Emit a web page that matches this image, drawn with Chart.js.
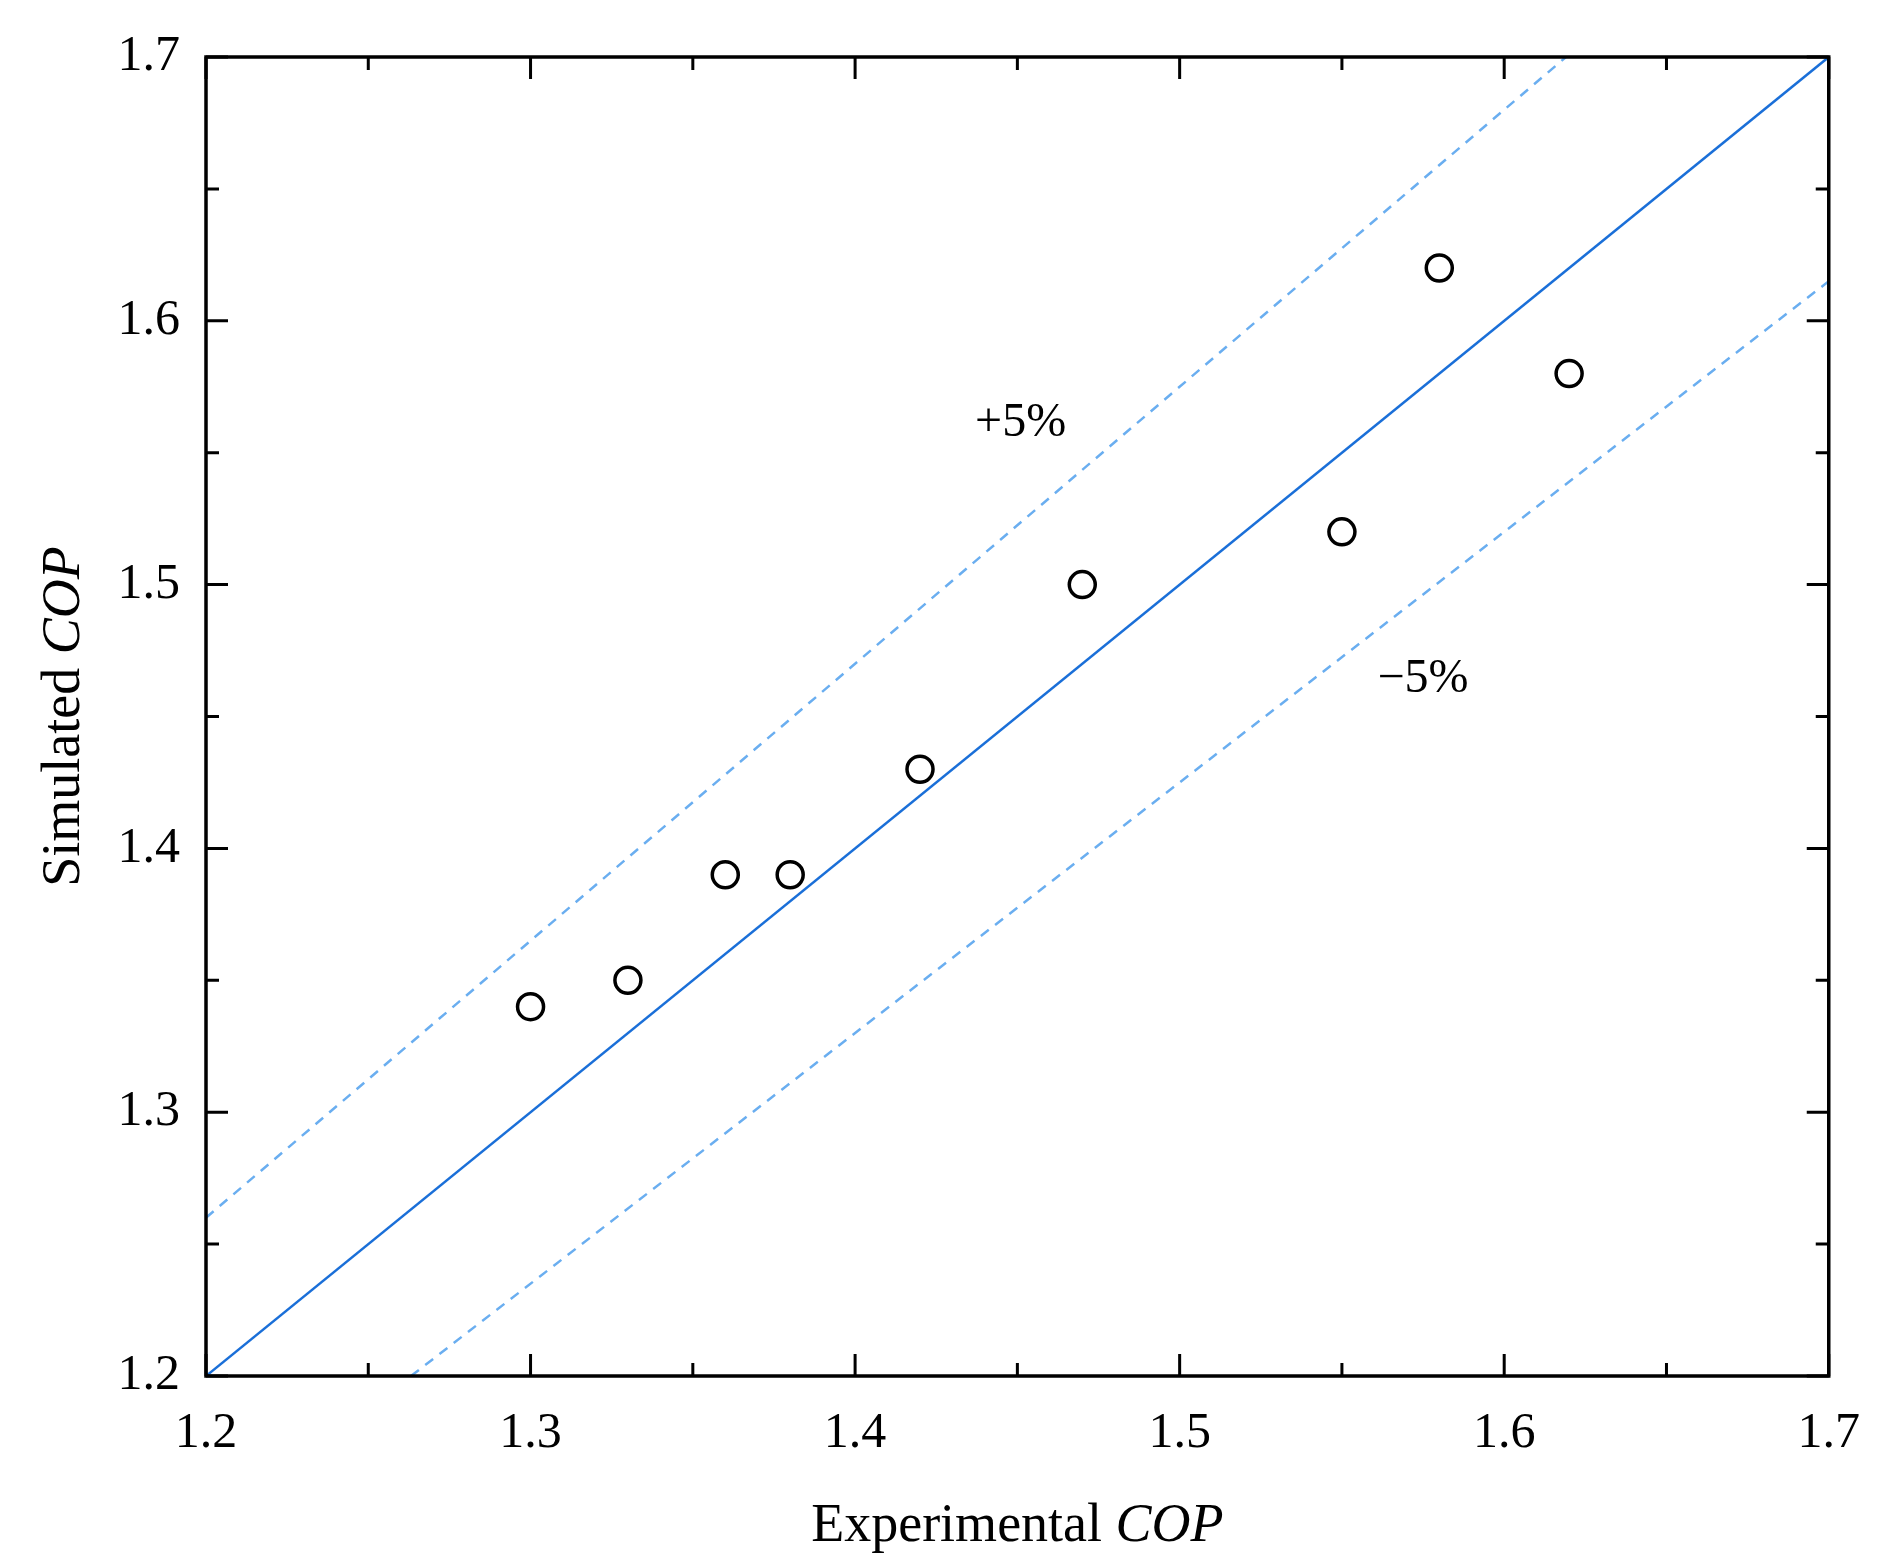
<!DOCTYPE html>
<html><head><meta charset="utf-8">
<script src="https://cdn.jsdelivr.net/npm/chart.js@4"></script>
<style>html,body{margin:0;padding:0;background:#fff}#c{display:block}</style>
</head><body>
<canvas id="c" width="1888" height="1568"></canvas>
<script>
const expCOP = [1.30,1.33,1.36,1.38,1.42,1.47,1.55,1.58,1.62];
const simCOP = [1.34,1.35,1.39,1.39,1.43,1.50,1.52,1.62,1.58];
const lineX = [1.2, 1.7];
const plusX = [1.2, 1.7/1.05];
const minusX = [1.2/0.95, 1.7];
const annotations = [{text:'+5%', x:1.451, y:1.561},{text:'\u22125%', x:1.575, y:1.464}];
const FONT = '"Liberation Serif", "Times New Roman", serif';

const decor = {
  id:'decor',
  afterDraw(chart){
    const {ctx, chartArea:a, scales:{x,y}} = chart;
    ctx.save();
    ctx.strokeStyle='#000'; ctx.lineWidth=3.5;
    ctx.strokeRect(a.left,a.top,a.right-a.left,a.bottom-a.top);
    ctx.lineWidth=3;
    for(let v=1.2; v<=1.7001; v+=0.05){
      const major = Math.abs(Math.round(v*10)-v*10)<1e-6;
      const L = major?22:13;
      const px=x.getPixelForValue(v), py=y.getPixelForValue(v);
      ctx.beginPath();
      ctx.moveTo(px,a.bottom); ctx.lineTo(px,a.bottom-L);
      ctx.moveTo(px,a.top); ctx.lineTo(px,a.top+L);
      ctx.moveTo(a.left,py); ctx.lineTo(a.left+L,py);
      ctx.moveTo(a.right,py); ctx.lineTo(a.right-L,py);
      ctx.stroke();
    }
    ctx.fillStyle='#000';
    ctx.font='48px '+FONT; ctx.textAlign='center'; ctx.textBaseline='middle';
    annotations.forEach(t=>ctx.fillText(t.text, x.getPixelForValue(t.x), y.getPixelForValue(t.y)));
    const drawTitle=(parts)=>{
      let w=0; parts.forEach(p=>{ctx.font=p[1]+' 54px '+FONT; w+=ctx.measureText(p[0]).width;});
      let cx=-w/2; ctx.textAlign='left';
      parts.forEach(p=>{ctx.font=p[1]+' 54px '+FONT; ctx.fillText(p[0],cx,0); cx+=ctx.measureText(p[0]).width;});
    };
    ctx.textBaseline='middle';
    ctx.save(); ctx.translate((a.left+a.right)/2, 1527); drawTitle([['Experimental ','normal'],['COP','italic']]); ctx.restore();
    ctx.save(); ctx.translate(65,(a.top+a.bottom)/2); ctx.rotate(-Math.PI/2); drawTitle([['Simulated ','normal'],['COP','italic']]); ctx.restore();
    ctx.restore();
  }
};

const tickCfg = {
  min:1.2, max:1.7,
  grid:{display:false, drawTicks:false},
  border:{display:false},
};
new Chart(document.getElementById('c'),{
  type:'scatter',
  data:{datasets:[
    {data:expCOP.map((v,i)=>({x:v,y:simCOP[i]})), showLine:false, pointRadius:13, pointBorderWidth:3.5, borderColor:'#000', backgroundColor:'rgba(0,0,0,0)', pointHoverRadius:13},
    {data:lineX.map(v=>({x:v,y:v})), showLine:true, pointRadius:0, borderColor:'#1a6fd8', borderWidth:2.5},
    {data:plusX.map(v=>({x:v,y:v*1.05})), showLine:true, pointRadius:0, borderColor:'#6aaef0', borderWidth:2.5, borderDash:[10,8]},
    {data:minusX.map(v=>({x:v,y:v*0.95})), showLine:true, pointRadius:0, borderColor:'#6aaef0', borderWidth:2.5, borderDash:[10,8]}
  ]},
  options:{
    responsive:false, animation:false, devicePixelRatio:1,
    layout:{padding:{left:0,top:57,right:43,bottom:0}},
    plugins:{legend:{display:false},tooltip:{enabled:false}},
    scales:{
      x:{type:'linear', ...tickCfg,
        ticks:{stepSize:0.1, color:'#000', font:{family:FONT,size:50}, padding:28, maxRotation:0, callback:v=>v.toFixed(1)},
        afterFit(s){s.height=192;}},
      y:{type:'linear', ...tickCfg,
        ticks:{stepSize:0.1, color:'#000', font:{family:FONT,size:50}, padding:26, callback:v=>v.toFixed(1)},
        afterFit(s){s.width=206;}}
    }
  },
  plugins:[decor]
});
</script>
</body></html>
